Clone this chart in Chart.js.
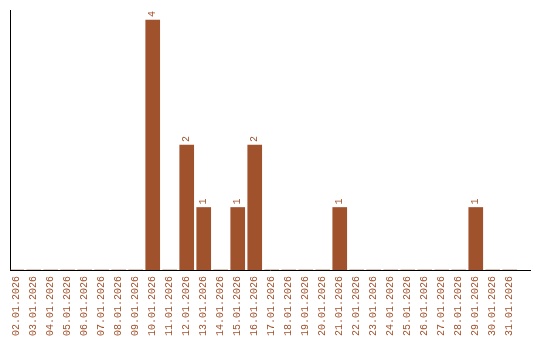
<!DOCTYPE html>
<html>
<head>
<meta charset="utf-8">
<script src="https://cdn.jsdelivr.net/npm/chart.js@4.4.1/dist/chart.umd.min.js"></script>
<style>
  body { margin: 0; background: #fff; }
</style>
</head>
<body>
<canvas id="myChart" width="540" height="340"></canvas>
<script>
const days = [
  '02.01.2026', '03.01.2026', '04.01.2026', '05.01.2026', '06.01.2026',
  '07.01.2026', '08.01.2026', '09.01.2026', '10.01.2026', '11.01.2026',
  '12.01.2026', '13.01.2026', '14.01.2026', '15.01.2026', '16.01.2026',
  '17.01.2026', '18.01.2026', '19.01.2026', '20.01.2026', '21.01.2026',
  '22.01.2026', '23.01.2026', '24.01.2026', '25.01.2026', '26.01.2026',
  '27.01.2026', '28.01.2026', '29.01.2026', '30.01.2026', '31.01.2026',
];
const counts = [0, 0, 0, 0, 0, 0, 0, 0, 4, 0, 2, 1, 0, 1, 2, 0, 0, 0, 0, 1, 0, 0, 0, 0, 0, 0, 0, 1, 0, 0];

const brown = '#a0522d';
const monoFont = { family: '"Liberation Mono", "DejaVu Sans Mono", monospace', size: 10 };

// value written above each bar, turned upright
const barValues = {
  id: 'barValues',
  afterDatasetsDraw(chart) {
    const ctx = chart.ctx;
    const meta = chart.getDatasetMeta(0);
    ctx.save();
    ctx.fillStyle = brown;
    ctx.font = '10px ' + monoFont.family;
    ctx.textAlign = 'left';
    ctx.textBaseline = 'middle';
    meta.data.forEach((bar, i) => {
      if (!counts[i]) return;
      ctx.save();
      ctx.translate(bar.x, bar.y - 3);
      ctx.rotate(-Math.PI / 2);
      ctx.fillText(String(counts[i]), 0, 0);
      ctx.restore();
    });
    ctx.restore();
  },
};

const ctx = document.getElementById('myChart').getContext('2d');
const myChart = new Chart(ctx, {
  type: 'bar',
  data: {
    datasets: [
      {
        data: counts.map((v, i) => ({ x: i, y: v })),
        backgroundColor: brown,
        borderWidth: 0,
        barThickness: 14,
      },
    ],
  },
  options: {
    responsive: false,
    animation: false,
    layout: { padding: { left: 10, right: 10, top: 10, bottom: 4 } },
    plugins: {
      legend: { display: false },
      tooltip: { enabled: false },
    },
    scales: {
      x: {
        type: 'linear',
        offset: false,
        min: -0.394,
        max: 30.19,
        grid: { display: false, drawTicks: false },
        border: { display: true, color: '#000', width: 1 },
        afterBuildTicks: (scale) => {
          scale.ticks = days.map((d, i) => ({ value: i }));
        },
        afterFit: (scale) => {
          scale.height = 66;
        },
        ticks: {
          autoSkip: false,
          minRotation: 90,
          maxRotation: 90,
          padding: 6,
          color: brown,
          font: monoFont,
          callback: (value) => days[value] || '',
        },
      },
      y: {
        min: 0,
        max: 4.16,
        grid: { display: false },
        border: { display: true, color: '#000', width: 1 },
        afterFit: (scale) => {
          scale.width = 0;
        },
        ticks: { display: false },
      },
    },
  },
  plugins: [barValues],
});
</script>
</body>
</html>
